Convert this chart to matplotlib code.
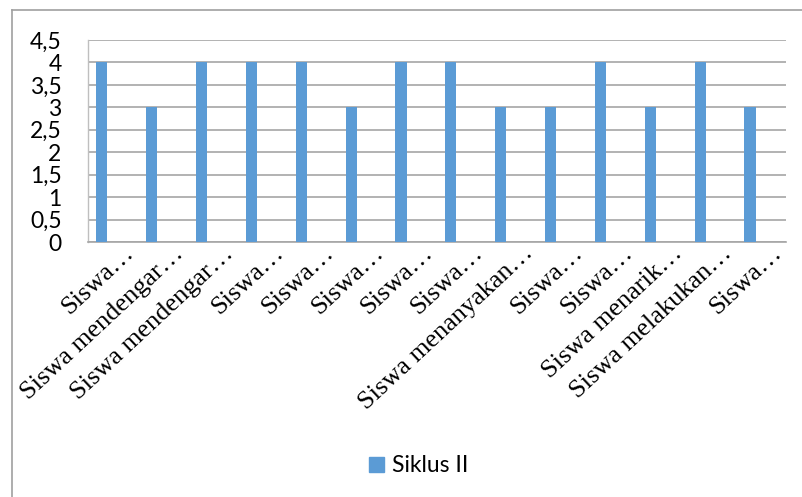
import matplotlib
matplotlib.use("Agg")
import matplotlib.pyplot as plt
import matplotlib.transforms as mtransforms
from matplotlib.lines import Line2D
from matplotlib.patches import Patch

categories = ["Siswa…", "Siswa mendengar…", "Siswa mendengar…", "Siswa…", "Siswa…",
              "Siswa…", "Siswa…", "Siswa…", "Siswa menanyakan…", "Siswa…",
              "Siswa…", "Siswa menarik…", "Siswa melakukan…", "Siswa…"]
siklus2 = [4, 3, 4, 4, 4, 3, 4, 4, 3, 3, 4, 3, 4, 3]
yticks = [0, 0.5, 1, 1.5, 2, 2.5, 3, 3.5, 4, 4.5]
ytick_labels = ["0", "0,5", "1", "1,5", "2", "2,5", "3", "3,5", "4", "4,5"]
series_name = "Siklus II"

W, H = 803, 497
fig = plt.figure(figsize=(W / 100, H / 100), dpi=100)
ax = fig.add_axes([88 / W, 1 - 242 / H, (786 - 88) / W, (242 - 40) / H])

# Excel clustered layout: 3 series slots, gap width 150%, only first slot used
n_slots, gap = 3, 1.5
w = 1 / (n_slots + gap)
first_offset = -0.5 + gap * w / 2 + w / 2
xs = [i + first_offset for i in range(len(categories))]
ax.bar(xs, siklus2, width=w, color="#5B9BD5", zorder=3)

ax.set_xlim(-0.5, len(categories) - 0.5)
ax.set_ylim(0, 4.5)
ax.set_yticks(yticks)
ax.set_yticklabels(ytick_labels, fontsize=16.5, family="Lato")
ax.tick_params(axis="y", length=0, pad=19)
ax.yaxis.grid(True, color="#a6a6a6", linewidth=1.2, zorder=0)
for s in ["top", "right"]:
    ax.spines[s].set_visible(False)
ax.spines["left"].set_color("#bfbfbf")
ax.spines["bottom"].set_color("#a6a6a6")
ax.spines["left"].set_linewidth(1)
ax.spines["bottom"].set_linewidth(1.2)

ax.set_xticks(range(len(categories)))
ax.set_xticklabels(categories, rotation=43, ha="right", va="baseline",
                   rotation_mode="anchor", fontsize=19, family="Liberation Serif")
ax.tick_params(axis="x", length=0, pad=9)
off = mtransforms.ScaledTranslation(22 / 100, 0, fig.dpi_scale_trans)
for lbl in ax.get_xticklabels():
    lbl.set_transform(lbl.get_transform() + off)

leg = fig.legend(handles=[Patch(color="#5B9BD5", label=series_name)],
                 loc="center", bbox_to_anchor=(419 / W, 1 - 466 / H),
                 frameon=False, prop={"family": "Lato", "size": 16.5},
                 handlelength=0.65, handleheight=0.65, handletextpad=0.35)

# outer chart frame
fig.add_artist(Line2D([12 / W, 1.0], [1 - 10 / H, 1 - 10 / H], color="#a0a0a0", lw=1.2))
fig.add_artist(Line2D([12 / W, 12 / W], [0, 1 - 10 / H], color="#a0a0a0", lw=1.2))

fig.savefig("out.png", dpi=100)
